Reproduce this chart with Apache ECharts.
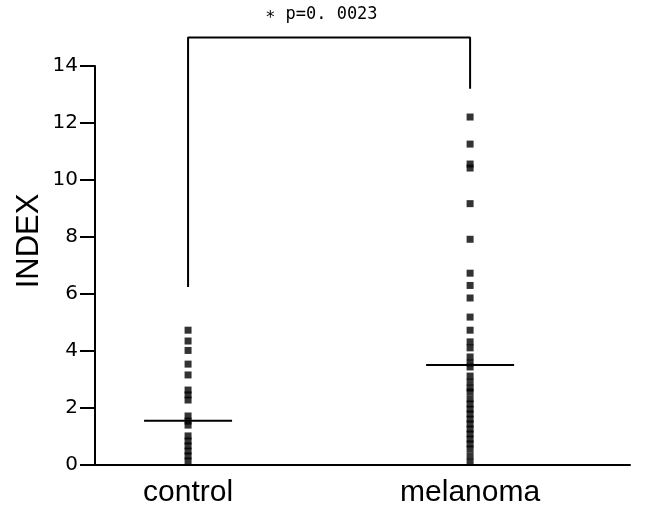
<!DOCTYPE html>
<html>
	<head>
		<meta charset="UTF-8">
		<title>INDEX control vs melanoma</title>
		<script type="text/javascript" src="https://cdn.jsdelivr.net/npm/echarts@6/dist/echarts.min.js"></script>
		<style>
			html,body{margin:0;padding:0;background:#fff;}
			#dot-char{width:653px;height:510px;}
		</style>
	</head>
	<body>
		<div id="dot-char"></div>
	</body>
</html>
<script type="text/javascript">
	var categories = ['control', 'melanoma'];
	var controlValues = [4.73, 4.35, 4.02, 3.54, 3.16, 2.63, 2.46, 2.28, 1.72, 1.54, 1.40, 1.02, 0.84, 0.67, 0.49, 0.32, 0.14];
	var melanomaValues = [12.21, 11.26, 10.56, 10.42, 9.17, 7.92, 6.73, 6.30, 5.86, 5.19, 4.73, 4.32, 4.11, 3.79, 3.58, 3.44,
		3.12, 2.91, 2.70, 2.56, 2.32, 2.14, 1.96, 1.79, 1.61, 1.44, 1.26, 1.09, 0.91, 0.74, 0.56, 0.32, 0.10];
	var means = [1.55, 3.51];
	var yTicks = [0, 2, 4, 6, 8, 10, 12, 14];
	// bracket: left foot, top, right foot
	var bracket = [6.25, 15, 13.2];
	var pLabel = '∗ p=0. 0023';
	var yName = 'INDEX';

	function drawDotChar(){
		var charContent = document.getElementById('dot-char');
		var dotChar = echarts.init(charContent);
		var dots = [];
		controlValues.forEach(function(v){ dots.push([1, v]); });
		melanomaValues.forEach(function(v){ dots.push([2, v]); });
		var options = {
			animation: false,
			title: {
				text: pLabel,
				left: 260,
				top: 1,
				textStyle: {
					fontFamily: 'DejaVu Sans Mono',
					fontWeight: 'normal',
					fontSize: 17,
					color: '#000'
				}
			},
			graphic: [{
				type: 'text',
				x: 29,
				y: 241,
				rotation: Math.PI / 2,
				style: {
					text: yName,
					font: '31px "Liberation Sans"',
					fill: '#000',
					align: 'center',
					verticalAlign: 'middle'
				}
			}],
			grid: {
				left: 95,
				right: 23,
				top: 66,
				bottom: 45
			},
			xAxis: {
				type: 'value',
				min: 0.67,
				max: 2.567,
				splitLine: { show: false },
				axisTick: { show: false },
				axisLine: {
					onZero: false,
					lineStyle: { color: '#000', width: 2 }
				},
				axisLabel: {
					customValues: [1, 2],
					formatter: function(v){ return categories[Math.round(v) - 1]; },
					fontFamily: 'Liberation Sans',
					fontSize: 30,
					color: '#000',
					margin: 13
				}
			},
			yAxis: {
				type: 'value',
				min: yTicks[0],
				max: yTicks[yTicks.length - 1],
				interval: 2,
				splitLine: { show: false },
				axisLine: {
					show: true,
					lineStyle: { color: '#000', width: 2 }
				},
				axisTick: {
					show: true,
					length: 15,
					lineStyle: { color: '#000', width: 2 }
				},
				axisLabel: {
					fontFamily: 'DejaVu Sans',
					fontSize: 20,
					color: '#000',
					margin: 17
				}
			},
			series: [{
				type: 'scatter',
				symbol: 'rect',
				symbolSize: 7,
				itemStyle: { color: '#000' },
				data: dots
			},
			{
				type: 'custom',
				clip: false,
				data: means.map(function(m, i){ return [i + 1, m]; }),
				renderItem: function(params, api){
					var p = api.coord([api.value(0), api.value(1)]);
					return {
						type: 'line',
						shape: { x1: p[0] - 44, y1: p[1], x2: p[0] + 44, y2: p[1] },
						style: { stroke: '#000', lineWidth: 2 }
					};
				}
			},
			{
				type: 'line',
				clip: false,
				symbol: 'none',
				lineStyle: { color: '#000', width: 2 },
				data: [[1, bracket[0]], [1, bracket[1]], [2, bracket[1]], [2, bracket[2]]]
			}]
		};
		dotChar.setOption(options);
	}
	drawDotChar();
</script>
